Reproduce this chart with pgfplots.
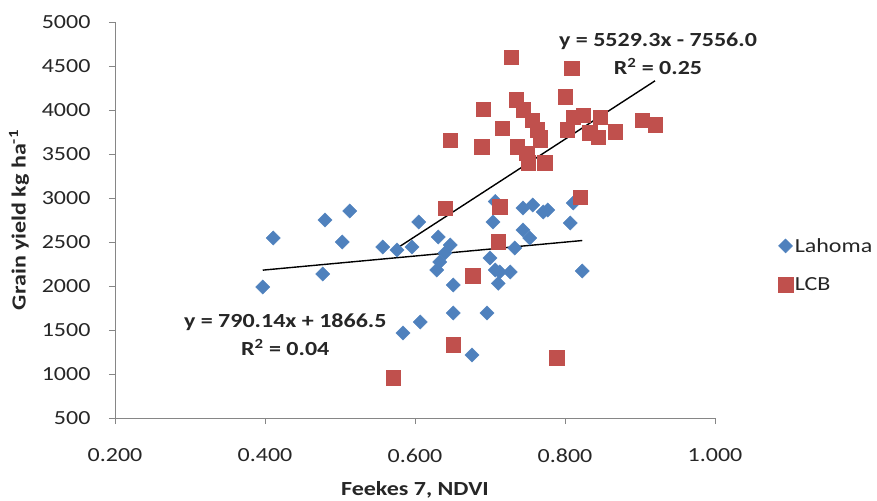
\documentclass[border=0pt]{standalone}
\usepackage{pgfplots}
\pgfplotsset{compat=1.18}
\usepackage{fontspec}
\setmainfont{Carlito}[FakeStretch=1.2]
\definecolor{lah}{HTML}{4F81BD}
\definecolor{lcb}{HTML}{C0504D}
\definecolor{axgray}{HTML}{868686}
\definecolor{txt}{HTML}{262626}
\begin{document}
\begin{tikzpicture}[font=\fontsize{20}{24}\selectfont]
\begin{axis}[
  scale only axis, width=600pt, height=396pt, clip=false,
  xmin=0.2, xmax=1.0, ymin=500, ymax=5000,
  axis x line*=bottom, axis y line*=left,
  axis line style={color=axgray, line width=0.9pt},
  xtick={0.2,0.4,0.6,0.8,1.0}, ytick={500,1000,...,5000},
  tick align=outside, major tick length=6pt,
  tick style={color=axgray, line width=0.9pt},
  /pgf/number format/assume math mode=true,
  xticklabel style={/pgf/number format/fixed, /pgf/number format/precision=3, /pgf/number format/fixed zerofill, yshift=-21pt, text=txt},
  yticklabel style={/pgf/number format/set thousands separator={}, xshift=-15pt, text=txt},
  xlabel={\bfseries Feekes 7, NDVI}, ylabel={\bfseries Grain yield kg ha\textsuperscript{-1}},
  xlabel style={text=txt, yshift=-12pt},
  ylabel style={text=txt, yshift=6pt},
  legend style={draw=none, fill=none, at={(axis description cs:1.1,0.386)}, anchor=west, row sep=20pt, legend cell align=left, text=txt},
  legend image code/.code={\draw[#1] plot coordinates {(0pt,0pt)};},
]
\addplot[only marks, mark=square*, mark size=5pt, mark options={rotate=45, fill=lah, draw=lah}] coordinates {
(0.397,1989) (0.411,2545) (0.477,2136) (0.480,2750) (0.503,2500) (0.513,2852)
(0.557,2443) (0.576,2409) (0.584,1466) (0.596,2443) (0.605,2727) (0.607,1591)
(0.629,2182) (0.631,2557) (0.633,2273) (0.640,2375) (0.647,2466) (0.651,2011)
(0.651,1693) (0.676,1216) (0.696,1693) (0.700,2318) (0.704,2727) (0.707,2960)
(0.707,2182) (0.711,2030) (0.713,2159) (0.727,2159) (0.733,2432) (0.744,2636)
(0.744,2886) (0.753,2545) (0.757,2920) (0.771,2841) (0.777,2864) (0.807,2716)
(0.811,2943) (0.823,2170)
};
\addlegendentry{Lahoma}
\addplot[only marks, mark=square*, mark size=7.3pt, mark options={fill=lcb, draw=lcb}] coordinates {
(0.571,955) (0.640,2886) (0.647,3659) (0.651,1330) (0.677,2114) (0.689,3580)
(0.691,4011) (0.711,2500) (0.713,2898) (0.716,3795) (0.728,4602) (0.735,4114)
(0.736,3580) (0.744,4000) (0.749,3511) (0.751,3398) (0.756,3886) (0.763,3773)
(0.767,3659) (0.767,3693) (0.773,3398) (0.789,1182) (0.800,4148) (0.803,3773)
(0.809,4477) (0.811,3920) (0.820,3011) (0.824,3943) (0.833,3739) (0.844,3693)
(0.847,3920) (0.867,3750) (0.903,3886) (0.920,3830)
};
\addlegendentry{LCB}
\addplot[black, line width=1.4pt, forget plot] coordinates {(0.397,2180.2) (0.823,2516.8)};
\addplot[black, line width=1.4pt, forget plot] coordinates {(0.571,2401.6) (0.920,4331.4)};
\node[font=\fontsize{20}{28}\selectfont\bfseries, align=center, text=txt] at (axis cs:0.924,4636) {y = 5529.3x - 7556.0\\R\textsuperscript{2} = 0.25};
\node[font=\fontsize{20}{28}\selectfont\bfseries, align=center, text=txt] at (axis cs:0.427,1443) {y = 790.14x + 1866.5\\R\textsuperscript{2} = 0.04};
\coordinate (O) at (rel axis cs:0,0);
\end{axis}
\pgfresetboundingbox
\path (O) ++(-115pt,-82pt) rectangle ++(877pt,500pt);
\end{tikzpicture}
\end{document}
